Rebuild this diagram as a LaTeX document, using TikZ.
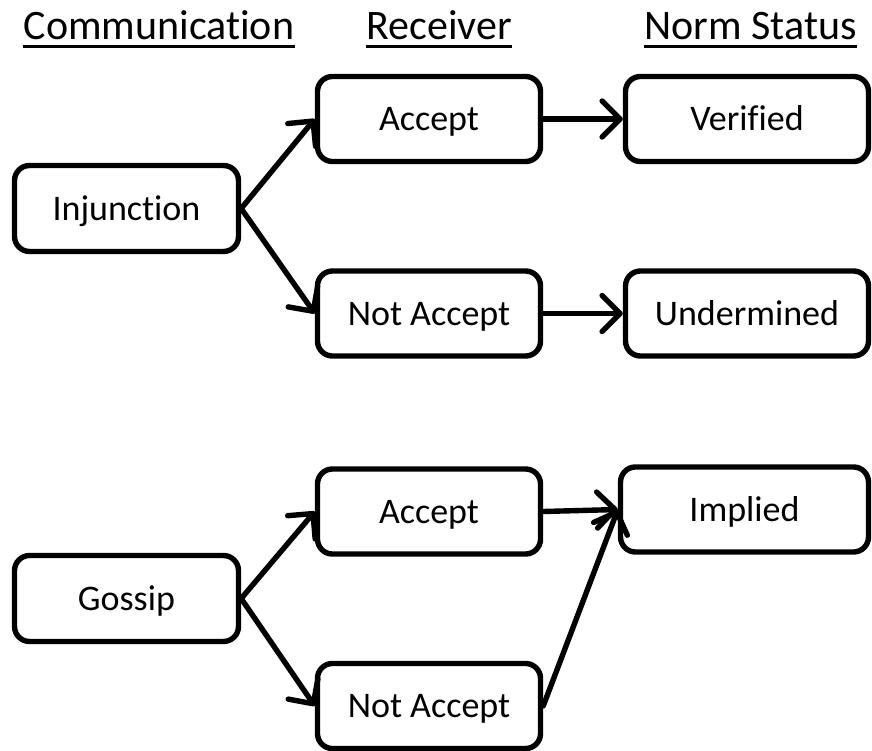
\documentclass[tikz,border=0pt]{standalone}
\usepackage{fontspec}
\setmainfont{Carlito}[Ligatures={NoCommon,NoRare,NoDiscretionary,NoContextual}]
\usetikzlibrary{arrows.meta}
\begin{document}
\begin{tikzpicture}[x=0.6667pt,y=-0.6667pt,
  box/.style={draw=black,line width=3.6pt,rounded corners=10pt,fill=white,
    minimum width=148.7pt,minimum height=56.7pt,inner sep=0pt,
    font=\fontsize{24}{28}\selectfont,text height=15.5pt,text depth=0pt},
  leftbox/.style={box,minimum width=149.3pt,minimum height=57.3pt},
  rightbox/.style={box,minimum width=162pt},
  hdr/.style={anchor=base,inner sep=0pt,font=\fontsize{28}{32}\selectfont},
  uline/.style={line width=2pt},
  arr/.style={line width=3.6pt,line cap=round,
    -{Straight Barb[length=12pt,width=24pt,line cap=round,line join=round]}}]
\useasboundingbox (0,0) rectangle (872,751);
% headers
\node[hdr] (h1) at (159,40) {Communication};
\node[hdr] (h2) at (439,40) {Receiver};
\node[hdr] (h3) at (750.5,40) {Norm Status};
\draw[uline] ([yshift=-4.5pt]h1.base west) -- ([yshift=-4.5pt]h1.base east);
\draw[uline] ([yshift=-4.5pt]h2.base west) -- ([yshift=-4.5pt]h2.base east);
\draw[uline] ([yshift=-4.5pt]h3.base west) -- ([yshift=-4.5pt]h3.base east);
% upper group
\node[leftbox] (inj) at (126.5,208.5) {Injunction};
\node[box] (acc1) at (429,119) {Accept};
\node[box] (na1) at (429,313.5) {Not Accept};
\node[rightbox] (ver) at (747,119) {Verified};
\node[rightbox] (und) at (747,313.5) {Undermined};
% lower group
\node[leftbox] (gos) at (126.5,598.5) {Gossip};
\node[box] (acc2) at (429,511.5) {Accept};
\node[box] (na2) at (429,706) {Not Accept};
\node[rightbox,minimum width=165.3pt] (imp) at (744.5,509.5) {Implied};
% connectors
\draw[arr] (inj.east) -- (acc1.west);
\draw[arr] (inj.east) -- (na1.west);
\draw[arr] (acc1.east) -- (ver.west);
\draw[arr] (na1.east) -- (und.west);
\draw[arr] (gos.east) -- (acc2.west);
\draw[arr] (gos.east) -- (na2.west);
\draw[arr] (acc2.east) -- (imp.west);
\draw[arr] (na2.east) -- (imp.west);
\end{tikzpicture}
\end{document}
